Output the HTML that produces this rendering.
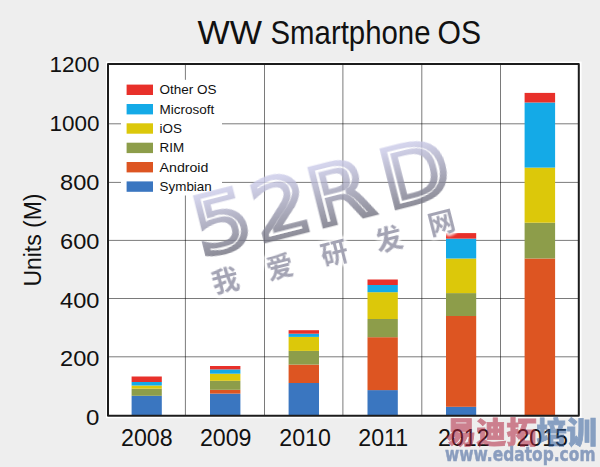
<!DOCTYPE html>
<html>
<head>
<meta charset="utf-8">
<title>WW Smartphone OS</title>
<style>
html,body{margin:0;padding:0;background:#eeeeee;}
body{width:600px;height:467px;overflow:hidden;}
svg{display:block;}
svg{font-family:"Liberation Sans","Noto Sans CJK SC",sans-serif;}
</style>
</head>
<body>
<svg width="600" height="467" viewBox="0 0 600 467">
  <defs>
    <linearGradient id="wmg" gradientUnits="userSpaceOnUse" x1="0" y1="-62" x2="0" y2="0">
      <stop offset="0" stop-color="#cacae8"/>
      <stop offset="1" stop-color="#70707e"/>
    </linearGradient>
    <filter id="er" x="-20%" y="-20%" width="140%" height="140%">
      <feMorphology operator="erode" radius="2.6 2.2"/>
    </filter>
    <filter id="bl" x="-10%" y="-10%" width="120%" height="120%">
      <feGaussianBlur stdDeviation="0.7"/>
    </filter>
    <filter id="bl2" x="-10%" y="-10%" width="120%" height="120%">
      <feGaussianBlur stdDeviation="0.45"/>
    </filter>
    <filter id="bl3" x="-20%" y="-20%" width="140%" height="140%">
      <feGaussianBlur stdDeviation="1.2"/>
    </filter>
  </defs>
  <rect x="0" y="0" width="600" height="467" fill="#eeeeee"/>

  <!-- title -->
  <g font-size="32.4" fill="#111">
    <text x="197.5" y="44" textLength="64.5" lengthAdjust="spacingAndGlyphs">WW</text>
    <text x="270.5" y="44" textLength="160" lengthAdjust="spacingAndGlyphs">Smartphone</text>
    <text x="437.5" y="44" textLength="43.5" lengthAdjust="spacingAndGlyphs">OS</text>
  </g>

  <!-- plot area -->
  <rect x="106" y="61.6" width="475.6" height="356.6" fill="#ffffff"/>

  <!-- gridlines -->
  <g stroke="#000" stroke-opacity="0.52" stroke-width="1" fill="none">
    <line x1="185.4" y1="64" x2="185.4" y2="415.7"/>
    <line x1="264.5" y1="64" x2="264.5" y2="415.7"/>
    <line x1="342.9" y1="64" x2="342.9" y2="415.7"/>
    <line x1="421.8" y1="64" x2="421.8" y2="415.7"/>
    <line x1="500.5" y1="64" x2="500.5" y2="415.7"/>
    <line x1="108" y1="123.8" x2="578.8" y2="123.8"/>
    <line x1="108" y1="182.4" x2="578.8" y2="182.4"/>
    <line x1="108" y1="240.4" x2="578.8" y2="240.4"/>
    <line x1="108" y1="298.5" x2="578.8" y2="298.5"/>
    <line x1="108" y1="356.8" x2="578.8" y2="356.8"/>
  </g>

  <!-- bars -->
  <g>
    <!-- 2008 -->
    <rect x="131.6" y="395.8" width="30.2" height="19.9" fill="#3a76c0"/>
    <rect x="131.6" y="388.6" width="30.2" height="7.2" fill="#8d9d4a"/>
    <rect x="131.6" y="385.5" width="30.2" height="3.1" fill="#dcc80a"/>
    <rect x="131.6" y="382" width="30.2" height="3.5" fill="#14aae7"/>
    <rect x="131.6" y="376.5" width="30.2" height="5.5" fill="#e8302a"/>
    <!-- 2009 -->
    <rect x="210" y="393.6" width="30.4" height="22.1" fill="#3a76c0"/>
    <rect x="210" y="389.8" width="30.4" height="3.8" fill="#dd5522"/>
    <rect x="210" y="380.8" width="30.4" height="9" fill="#8d9d4a"/>
    <rect x="210" y="373.7" width="30.4" height="7.1" fill="#dcc80a"/>
    <rect x="210" y="369.4" width="30.4" height="4.3" fill="#14aae7"/>
    <rect x="210" y="366" width="30.4" height="3.4" fill="#e8302a"/>
    <!-- 2010 -->
    <rect x="288.6" y="383" width="30.4" height="32.7" fill="#3a76c0"/>
    <rect x="288.6" y="364.6" width="30.4" height="18.4" fill="#dd5522"/>
    <rect x="288.6" y="350.9" width="30.4" height="13.7" fill="#8d9d4a"/>
    <rect x="288.6" y="336.9" width="30.4" height="14" fill="#dcc80a"/>
    <rect x="288.6" y="333.7" width="30.4" height="3.2" fill="#14aae7"/>
    <rect x="288.6" y="330.2" width="30.4" height="3.5" fill="#e8302a"/>
    <!-- 2011 -->
    <rect x="367.5" y="390.1" width="30.3" height="25.6" fill="#3a76c0"/>
    <rect x="367.5" y="337.2" width="30.3" height="52.9" fill="#dd5522"/>
    <rect x="367.5" y="319" width="30.3" height="18.2" fill="#8d9d4a"/>
    <rect x="367.5" y="292.2" width="30.3" height="26.8" fill="#dcc80a"/>
    <rect x="367.5" y="285" width="30.3" height="7.2" fill="#14aae7"/>
    <rect x="367.5" y="279.5" width="30.3" height="5.5" fill="#e8302a"/>
    <!-- 2012 -->
    <rect x="446" y="406.8" width="30.2" height="8.9" fill="#3a76c0"/>
    <rect x="446" y="316" width="30.2" height="90.8" fill="#dd5522"/>
    <rect x="446" y="293.1" width="30.2" height="22.9" fill="#8d9d4a"/>
    <rect x="446" y="258.5" width="30.2" height="34.6" fill="#dcc80a"/>
    <rect x="446" y="238.6" width="30.2" height="19.9" fill="#14aae7"/>
    <rect x="446" y="233.1" width="30.2" height="5.5" fill="#e8302a"/>
    <!-- 2015 -->
    <rect x="524.6" y="258.5" width="30.5" height="157.2" fill="#dd5522"/>
    <rect x="524.6" y="222.7" width="30.5" height="35.8" fill="#8d9d4a"/>
    <rect x="524.6" y="167.6" width="30.5" height="55.1" fill="#dcc80a"/>
    <rect x="524.6" y="102.5" width="30.5" height="65.1" fill="#14aae7"/>
    <rect x="524.6" y="92.9" width="30.5" height="9.6" fill="#e8302a"/>
  </g>

  <!-- legend -->
  <rect x="121" y="79.8" width="101" height="115.7" fill="#ffffff"/>
  <g>
    <rect x="126.6" y="84.6" width="26.4" height="10.4" fill="#e8302a"/>
    <rect x="126.6" y="104" width="26.4" height="10.4" fill="#14aae7"/>
    <rect x="126.6" y="123.3" width="26.4" height="10.4" fill="#dcc80a"/>
    <rect x="126.6" y="142.7" width="26.4" height="10.4" fill="#8d9d4a"/>
    <rect x="126.6" y="162" width="26.4" height="10.4" fill="#dd5522"/>
    <rect x="126.6" y="181.4" width="26.4" height="10.4" fill="#3a76c0"/>
  </g>
  <g font-size="13.4" fill="#111">
    <text x="159.6" y="94.1" textLength="57" lengthAdjust="spacingAndGlyphs">Other OS</text>
    <text x="159.6" y="113.5" textLength="54.6" lengthAdjust="spacingAndGlyphs">Microsoft</text>
    <text x="159.6" y="132.9">iOS</text>
    <text x="159.6" y="152.3">RIM</text>
    <text x="159.6" y="171.7" textLength="48.8" lengthAdjust="spacingAndGlyphs">Android</text>
    <text x="159.6" y="191.1">Symbian</text>
  </g>

  <!-- frame -->
  <rect x="108" y="63.9" width="470.8" height="351.8" fill="none" stroke="#1c1c1c" stroke-width="2" stroke-linejoin="round"/>

  <!-- y tick labels -->
  <g font-size="22" fill="#111" text-anchor="end" lengthAdjust="spacingAndGlyphs">
    <text x="99.4" y="72" textLength="50" lengthAdjust="spacingAndGlyphs">1200</text>
    <text x="99.4" y="130.9" textLength="50" lengthAdjust="spacingAndGlyphs">1000</text>
    <text x="99.4" y="189.7" textLength="39.4" lengthAdjust="spacingAndGlyphs">800</text>
    <text x="99.4" y="248.6" textLength="39.4" lengthAdjust="spacingAndGlyphs">600</text>
    <text x="99.4" y="307.5" textLength="39.4" lengthAdjust="spacingAndGlyphs">400</text>
    <text x="99.4" y="366.3" textLength="39.4" lengthAdjust="spacingAndGlyphs">200</text>
    <text x="99.4" y="425.2" textLength="13.4" lengthAdjust="spacingAndGlyphs">0</text>
  </g>
  <!-- y axis title -->
  <text transform="translate(41.2,286.6) rotate(-90)" font-size="24.4" fill="#111" textLength="93" lengthAdjust="spacingAndGlyphs">Units (M)</text>

  <!-- x labels -->
  <g font-size="23.2" fill="#111" text-anchor="middle">
    <text x="146.8" y="446">2008</text>
    <text x="225.7" y="446">2009</text>
    <text x="305.1" y="446">2010</text>
    <text x="383.2" y="446">2011</text>
    <text x="463.8" y="446">2012</text>
    <text x="542.2" y="446">2015</text>
  </g>

  <!-- 52RD watermark -->
  <g transform="translate(266.2,243.8) rotate(-14.2)">
    <g transform="scale(1.1,1)" font-family="'DejaVu Sans',sans-serif" font-size="78.5" opacity="0.8" filter="url(#bl2)">
      <text y="-4.5" fill="url(#wmg)" stroke="url(#wmg)" stroke-width="6.5" stroke-linejoin="miter"><tspan x="-59.1">5</tspan><tspan x="-4.1">2</tspan><tspan x="48.9">R</tspan><tspan x="116.5">D</tspan></text>
      <text y="-4.5" fill="#ffffff" filter="url(#er)"><tspan x="-59.1">5</tspan><tspan x="-4.1">2</tspan><tspan x="48.9">R</tspan><tspan x="116.5">D</tspan></text>
    </g>
  </g>
  <g transform="translate(264.3,242) rotate(-14.2)">
    <g font-family="'Liberation Sans','Noto Sans CJK SC',sans-serif" font-weight="bold" font-size="27" fill="#ffffff" stroke="#ffffff" stroke-width="5" stroke-linejoin="round" text-anchor="middle" dominant-baseline="central" opacity="0.85" filter="url(#bl3)">
      <text x="-47.3" y="28.5">我</text>
      <text x="9" y="28.5">爱</text>
      <text x="65.3" y="28.5">研</text>
      <text x="121.6" y="28.5">发</text>
      <text x="176.4" y="26.1">网</text>
    </g>
    <g font-family="'Liberation Sans','Noto Sans CJK SC',sans-serif" font-weight="bold" font-size="27" fill="#8e8ea2" text-anchor="middle" dominant-baseline="central" opacity="0.8" filter="url(#bl)">
      <text x="-47.3" y="28.5">我</text>
      <text x="9" y="28.5">爱</text>
      <text x="65.3" y="28.5">研</text>
      <text x="121.6" y="28.5">发</text>
      <text x="176.4" y="26.1">网</text>
    </g>
  </g>

  <!-- edatop watermark -->
  <g opacity="0.55">
    <text x="446" y="443" font-size="29.5" font-weight="900" fill="#b22640" stroke="#b22640" stroke-width="0.8" font-family="'Liberation Sans','Noto Sans CJK SC',sans-serif" textLength="151" lengthAdjust="spacingAndGlyphs">易迪拓<tspan fill="#33609e" stroke="#33609e">培训</tspan></text>
    <text x="445" y="461.3" font-size="18.6" font-weight="bold" font-family="'DejaVu Sans',sans-serif" fill="#3a5c98" stroke="#3a5c98" stroke-width="0.5" textLength="150.5" lengthAdjust="spacingAndGlyphs">www.edatop.com</text>
  </g>
</svg>
</body>
</html>
